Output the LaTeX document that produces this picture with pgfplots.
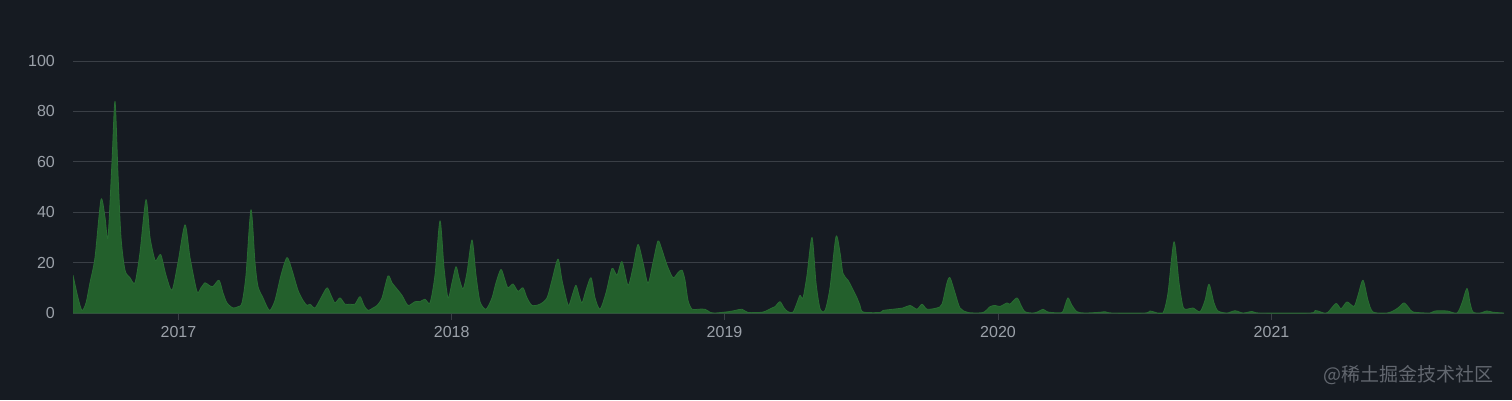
\documentclass[border=0pt]{standalone}
\usepackage{pgfplots}
\pgfplotsset{compat=1.18}
\usepackage{pgfplotstable}
\usepackage{fontspec}
\setmainfont{Liberation Sans}
\newfontfamily\cjk{Noto Sans CJK SC}
\definecolor{bg}{RGB}{22,27,34}
\definecolor{gridc}{RGB}{58,63,70}
\definecolor{tickc}{RGB}{155,161,169}
\definecolor{areafill}{RGB}{35,96,44}
\definecolor{areadraw}{RGB}{40,108,50}
\definecolor{wm}{RGB}{98,103,111}

\pgfplotstableread{
x y
73 15
78 6
82 1
86 4
90 12
95 22
101 45
105 38
108 30
112 60
115 84
118 55
121 30
125 17
130 14
135 12
140 24
146 45
150 30
155 21
158 22
161 23
166 15
172 9
178 20
185 35
190 22
197 8.5
201 10
205 12
209 11
213 10.5
219 13
223 8
227 4
233 2
238 2.5
242 4
246 15
251 41
255 20
258 10.5
263 6
267 2.5
270 1
275 5
281 15
287 22
292 17
298 9
303 5
307 3
310 3.5
315 2
321 6
327 10
331 7
335 4
340 6
345 3.5
350 3.5
355 3.5
360 6.5
364 3
368 1
373 2
377 3
382 6
388 14.7
392 12
397 9.5
402 7
408 3
415 4.5
420 4.5
425 5.5
430 4
435 15
440 36.6
444 18
448 6
452 12
456 18.4
459 14
463 9.5
467 16
472 29
476 15
480 4.5
486 1.5
492 6
496 12
501 17.3
505 13
508 10
513 11.5
518 8.6
523 10
527 6
532 3
540 3.5
547 6
552 13
558 21.4
562 13
567 4.5
569 3
573 8
576 11
579 7
582 4
586 9
591 14
595 6
600 1.5
606 8
612 17.7
617 15
622 20.4
628 11
633 18
638 27.2
643 20
648 11.8
653 20
658 28.6
662 25
667 19
673 14
678 16
682 17
685 13
688 5
692 1.5
698 1.5
705 1.5
710 0.3
715 0
728 0.5
735 1
742 1.5
748 0.2
762 0.3
767 1
772 2
775 2.5
780 4.5
784 2
788 0.5
793 0.3
797 4
800 7
803 6
807 15
812 30
816 12
820 1.8
825 1
830 10
836 30.3
840 24
843 15.7
848 13
852 10
857 6
860 3
863 0.4
880 0.2
883 1
893 1.5
903 2
910 3
917 1.5
922 3.5
927 1.5
937 2
942 3.5
947 12
950 14
955 8
960 2
968 0.2
983 0.2
990 2.5
995 3
1000 2.6
1007 4
1010 3.5
1017 6
1021 3
1025 0.5
1033 0
1038 0.5
1043 1.5
1047 0.5
1052 0.2
1062 0.2
1065 3
1068 6
1072 3
1077 0.5
1085 0
1100 0.3
1105 0.5
1112 0
1145 0
1150 0.8
1155 0.3
1163 0
1168 8
1174 28.3
1179 12
1183 2.5
1187 1.5
1193 2
1200 0.5
1205 5
1209 11.4
1214 4
1218 0.8
1227 0
1235 0.9
1243 0
1252 0.6
1260 0
1310 0
1315 1
1320 0.5
1324 0
1328 0.3
1336 3.8
1341 1.7
1347 4.4
1354 2.6
1358 7
1363 13
1368 5
1373 0.4
1387 0
1393 0.8
1398 2
1404 4
1409 2
1413 0.4
1430 0
1435 0.8
1447 0.8
1457 0
1462 4
1467 9.8
1470 4
1473 0.4
1480 0
1487 0.8
1493 0.3
1504 0
}\commits

\begin{document}
\begin{tikzpicture}[x=1pt,y=1pt]
\fill[bg] (0,0) rectangle (1512,400);
\begin{axis}[
  at={(73pt,87pt)}, anchor=south west,
  scale only axis, width=1431pt, height=252pt,
  xmin=73, xmax=1504, ymin=0, ymax=100,
  axis line style={draw=none},
  ytick={0,20,40,60,80,100},
  ymajorgrids, major grid style={draw=gridc, line width=1pt},
  xtick={178.5,451.7,724.5,998,1271.5},
  xticklabels={2017,2018,2019,2020,2021},
  xtick pos=left,
  tick align=outside, major tick length=7pt,
  xtick style={draw=gridc, line width=1pt},
  ytick style={draw=none},
  /pgf/number format/assume math mode=true,
  tick label style={font=\fontsize{16}{19}\selectfont, text=tickc},
  yticklabel style={inner sep=0pt, xshift=-11pt},
  xticklabel style={inner sep=0pt, yshift=-6pt},
]
\addplot[fill=areafill, draw=areadraw, line width=0.8pt, line join=round, smooth, tension=0.45] table[x=x,y=y] {\commits} \closedcycle;
\end{axis}
\node[anchor=east, inner sep=0pt, text=wm, font=\cjk\fontsize{19}{22}\selectfont] at (1494,25) {@稀土掘金技术社区};
\end{tikzpicture}
\end{document}
